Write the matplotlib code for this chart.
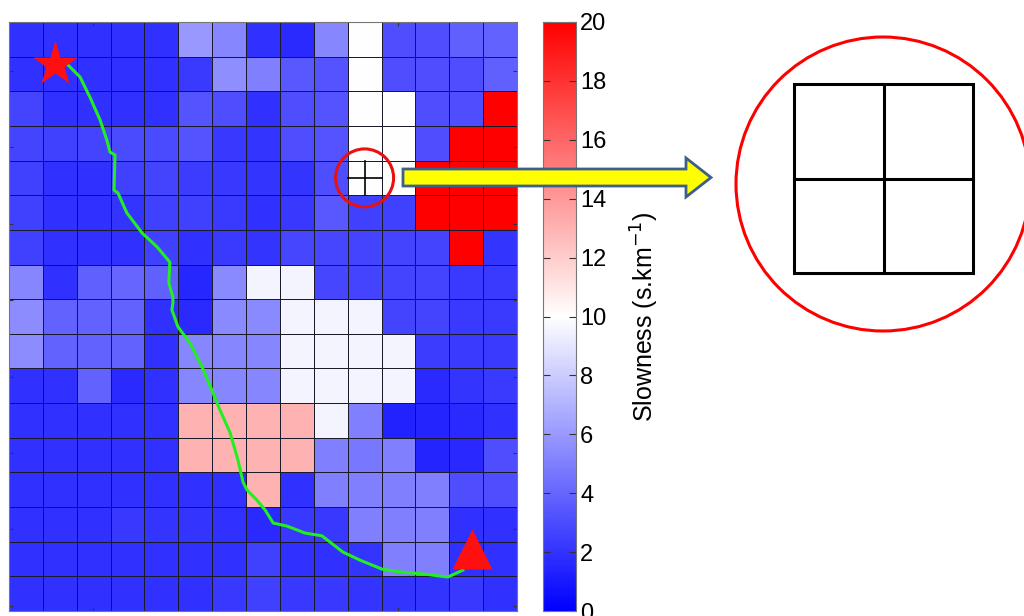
import numpy as np
import matplotlib.pyplot as plt
from matplotlib.colors import LinearSegmentedColormap
from matplotlib.patches import Ellipse, Circle, Polygon, Rectangle

plt.rcParams['font.family'] = ['Liberation Sans', 'DejaVu Sans']

# slowness model, 17 rows (top to bottom) x 15 columns
slowness = np.array([
    [1.9, 1.9, 1.9, 1.9, 1.9, 6.0, 5.3, 1.9, 1.7, 5.3, 10, 3.1, 3.1, 3.8, 3.9],
    [1.9, 1.9, 1.9, 1.9, 1.9, 2.3, 5.6, 5.0, 3.5, 3.3, 10, 3.1, 3.1, 3.1, 3.8],
    [2.7, 1.9, 1.9, 1.9, 1.9, 3.3, 3.1, 1.9, 3.1, 3.3, 10, 10, 3.1, 3.1, 20],
    [2.7, 2.5, 2.7, 2.9, 2.9, 3.3, 2.2, 2.1, 3.1, 3.3, 10, 10, 3.1, 20, 20],
    [2.5, 1.9, 1.9, 2.5, 2.7, 2.35, 2.2, 2.1, 2.1, 3.1, 10, 10, 20, 20, 20],
    [2.5, 1.9, 1.9, 2.1, 2.5, 2.5, 2.3, 1.9, 2.2, 3.5, 2.5, 2.5, 20, 20, 20],
    [2.5, 1.9, 1.9, 1.9, 2.5, 1.9, 2.3, 2.1, 2.8, 2.8, 2.7, 2.7, 2.7, 20, 2.1],
    [5.3, 1.9, 3.8, 4.0, 3.8, 1.5, 5.4, 9.6, 9.6, 2.8, 2.7, 2.7, 2.7, 2.3, 2.3],
    [5.5, 3.9, 3.9, 3.9, 1.9, 1.65, 5.4, 5.4, 9.6, 9.6, 9.6, 2.7, 2.7, 2.3, 2.3],
    [5.5, 3.9, 3.9, 3.9, 1.9, 5.3, 5.3, 5.3, 9.6, 9.6, 9.6, 9.6, 2.35, 2.3, 2.3],
    [1.9, 1.9, 3.9, 1.7, 1.9, 5.3, 5.3, 5.3, 9.6, 9.6, 9.6, 9.6, 1.65, 2.1, 2.3],
    [1.9, 1.9, 1.9, 1.9, 1.9, 13, 13, 13, 13, 9.6, 5.0, 1.35, 1.45, 1.65, 1.9],
    [1.9, 1.9, 1.9, 1.9, 1.9, 13, 13, 13, 13, 5.0, 4.7, 5.0, 1.45, 1.6, 3.1],
    [1.9, 1.9, 1.9, 1.9, 1.9, 1.9, 1.9, 13, 1.9, 5.0, 5.0, 5.0, 5.0, 3.1, 3.1],
    [1.9, 1.9, 1.9, 2.2, 2.1, 2.1, 1.9, 1.65, 2.2, 2.2, 5.0, 5.0, 5.0, 1.9, 1.9],
    [1.9, 1.9, 1.9, 1.9, 1.9, 1.9, 1.9, 2.5, 1.9, 1.9, 2.1, 5.0, 5.0, 1.9, 1.9],
    [1.9, 1.9, 1.9, 1.9, 1.9, 1.9, 2.2, 2.5, 2.2, 2.2, 2.1, 2.1, 2.1, 2.2, 1.9],
])

# ray path (column / row units)
ray_x = [1.74, 2.10, 2.39, 2.69, 2.89, 2.98, 3.13, 3.10, 3.22, 3.48, 3.93, 4.37,
         4.75, 4.72, 4.84, 4.84, 4.81, 4.99, 5.34, 5.70, 5.99, 6.23, 6.53, 6.76,
         6.91, 7.03, 7.32, 7.56, 7.80, 8.21, 8.74, 9.24, 9.86, 10.36, 11.01,
         11.54, 12.22, 12.96, 13.40]
ray_y = [1.24, 1.59, 2.17, 2.83, 3.41, 3.75, 3.84, 4.85, 4.94, 5.51, 6.09, 6.49,
         6.93, 7.53, 7.94, 8.11, 8.31, 8.80, 9.26, 9.96, 10.62, 11.20, 11.86, 12.64,
         13.28, 13.51, 13.80, 14.08, 14.46, 14.55, 14.75, 14.83, 15.30, 15.53, 15.79,
         15.87, 15.93, 16.02, 15.82]

source = (1.37, 1.21)
receiver = (13.67, 15.21)
zoom_cell = (10, 4)

cmap = LinearSegmentedColormap.from_list('bwr_m', ['#0000ff', '#ffffff', '#ff0000'])

fig = plt.figure(figsize=(10.24, 6.16), dpi=100)
ax = fig.add_axes([9/1024, 5/616, 508/1024, 589/616])
nr, nc = slowness.shape
mesh = ax.pcolormesh(np.arange(nc + 1), np.arange(nr + 1), slowness, cmap=cmap,
                     vmin=0, vmax=20, edgecolors='#1a1a2a', linewidth=0.55)
ax.set_xlim(0, nc)
ax.set_ylim(nr, 0)
ax.set_xticks([2.47, 11.49])
ax.set_yticks(16.85 - 2.205 * np.arange(8))
ax.tick_params(direction='in', length=3, width=0.8, color='#333333',
               top=True, right=True, labelleft=False, labelbottom=False)
for s in ax.spines.values():
    s.set_color('#777777')
    s.set_linewidth(0.8)

ax.plot(ray_x, ray_y, color='#22ee22', lw=2.2, zorder=3)
ax.plot(*source, marker='*', ms=34, color='#ff1010', mec='none', zorder=4)
ax.plot(*receiver, marker='^', ms=29, color='#ff1010', mec='none', zorder=4)

cx, cy = zoom_cell[0] + 0.5, zoom_cell[1] + 0.5
ax.plot([cx, cx], [zoom_cell[1], zoom_cell[1] + 1], color='k', lw=1.2, zorder=3)
ax.plot([zoom_cell[0], zoom_cell[0] + 1], [cy, cy], color='k', lw=1.2, zorder=3)
ax.add_patch(Ellipse((cx, cy), 2 * 29 / 33.87, 2 * 29 / 34.65, fill=False,
                     ec='#e81010', lw=2.2, zorder=5))

cax = fig.add_axes([543/1024, 5/616, 33/1024, 589/616])
cb = fig.colorbar(mesh, cax=cax, ticks=np.arange(0, 21, 2))
cb.outline.set_edgecolor('#777777')
cax.tick_params(direction='in', length=5, width=0.8, color='#333333',
                left=True, right=True, labelsize=17, pad=3)
cb.set_label('Slowness (s.km$^{-1}$)', fontsize=18, labelpad=16)

# overlay in pixel units for the zoom callout
ov = fig.add_axes([0, 0, 1, 1], facecolor='none')
ov.set_xlim(0, 1024)
ov.set_ylim(616, 0)
ov.axis('off')
arrow = Polygon([(403, 169), (686, 169), (686, 158), (711, 177.5), (686, 197),
                 (686, 186), (403, 186)], closed=True, fc='#ffff00', ec='#3d5f8c',
                lw=2, zorder=10)
ov.add_patch(arrow)
ov.add_patch(Circle((883, 184), 147, fill=False, ec='#ff0000', lw=2.2))
ov.add_patch(Rectangle((794, 84), 179, 189, fill=False, ec='k', lw=2.2))
ov.plot([884, 884], [84, 273], color='k', lw=2.2)
ov.plot([794, 973], [179, 179], color='k', lw=2.2)

fig.savefig('out.png', dpi=100)
